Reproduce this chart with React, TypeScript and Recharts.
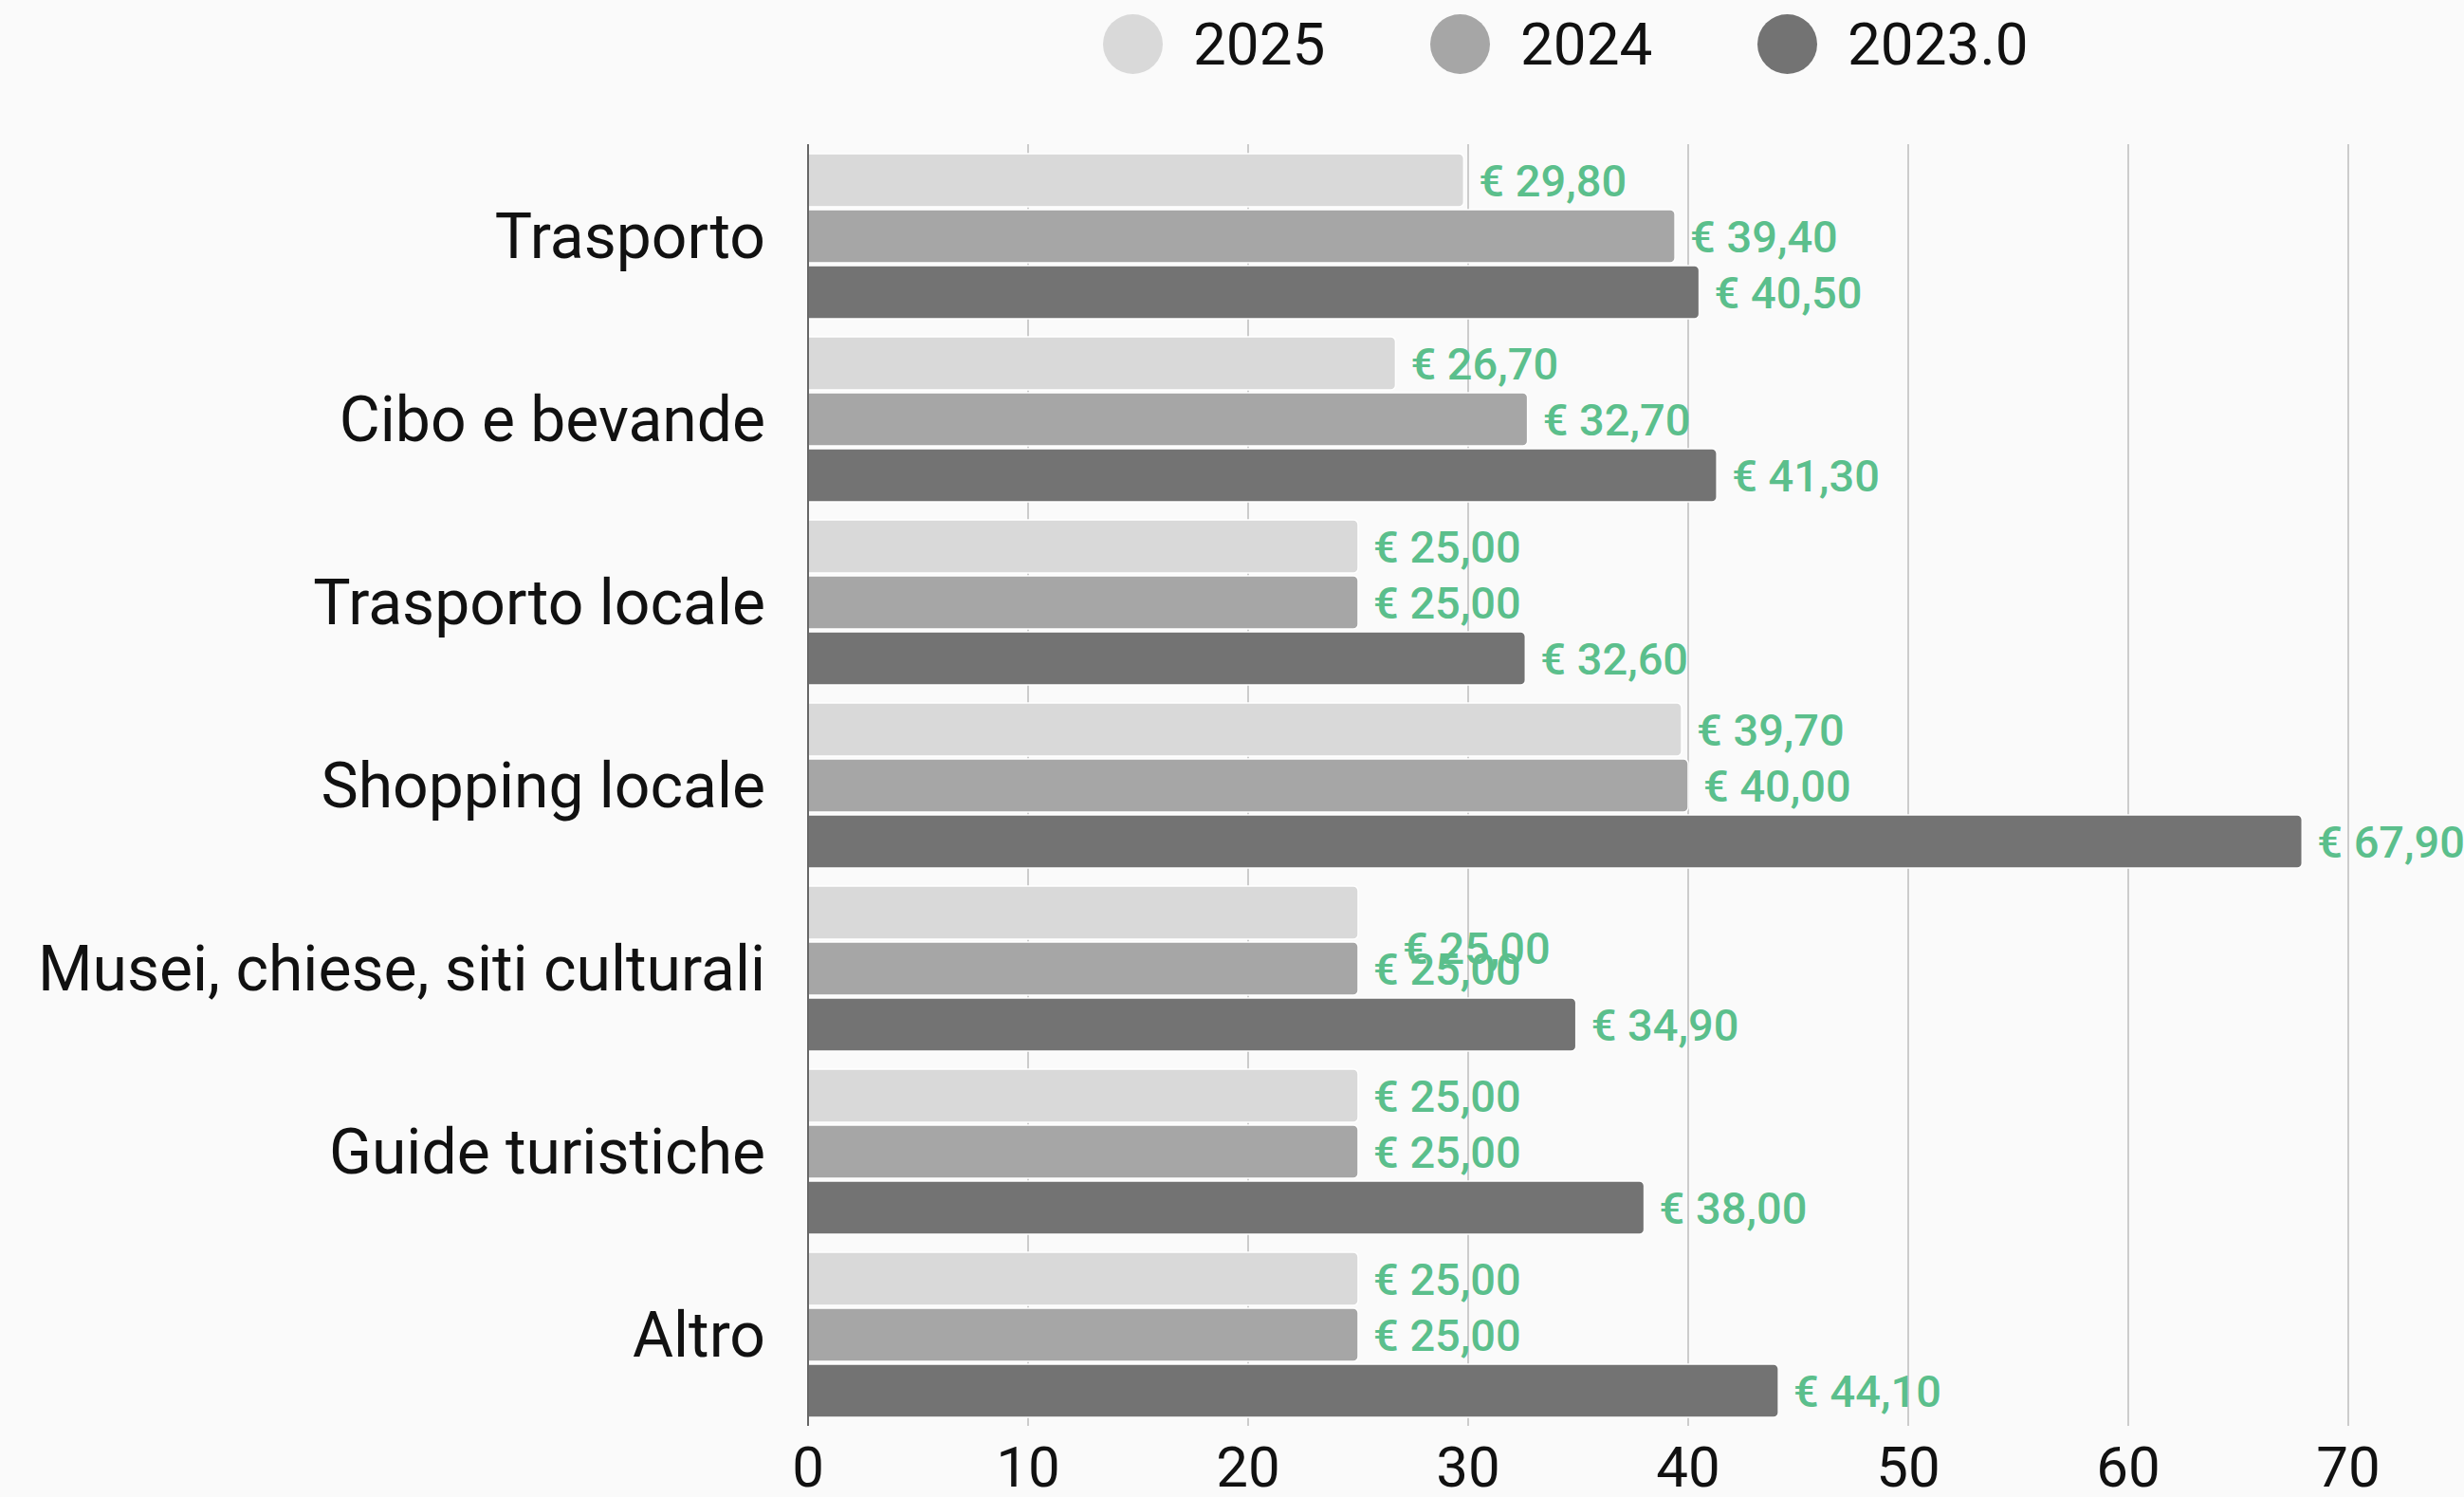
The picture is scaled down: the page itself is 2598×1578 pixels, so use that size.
import React from 'react';
import { BarChart, Bar, XAxis, YAxis, CartesianGrid, LabelList } from 'recharts';

// spesa media giornaliera per categoria
const categories = [
  'Trasporto',
  'Cibo e bevande',
  'Trasporto locale',
  'Shopping locale',
  'Musei, chiese, siti culturali',
  'Guide turistiche',
  'Altro',
];
const values2025 = [29.8, 26.7, 25.0, 39.7, 25.0, 25.0, 25.0];
const values2024 = [39.4, 32.7, 25.0, 40.0, 25.0, 25.0, 25.0];
const values2023 = [40.5, 41.3, 32.6, 67.9, 34.9, 38.0, 44.1];
const xTicks = [0, 10, 20, 30, 40, 50, 60, 70];

const SERIES = [
  { key: 's2025', name: '2025', color: '#d9d9d9' },
  { key: 's2024', name: '2024', color: '#a6a6a6' },
  { key: 's2023', name: '2023.0', color: '#737373' },
];

const data = categories.map((name, i) => ({
  name,
  s2025: values2025[i],
  s2024: values2024[i],
  s2023: values2023[i],
}));

const FONT = 'Roboto, "Noto Sans", sans-serif';
const GREEN = '#5bbf8c';

const fmt = (v: number) => '€ ' + v.toFixed(2).replace('.', ',');

// the reference has one label drawn out of place (Musei, 2025)
const labelFor = (key: string) => (props: any) => {
  const { x, y, width, height, value, index } = props;
  const off = key === 's2025' && index === 4 ? [31, 37] : [0, 0];
  return (
    <text
      x={Number(x) + Number(width) + 16 + off[0]}
      y={Number(y) + Number(height) / 2 + off[1]}
      dominantBaseline="central"
      fontSize={47}
      fontWeight={500}
      fontFamily={FONT}
      fill={GREEN}
    >
      {fmt(Number(value))}
    </text>
  );
};

const LegendRow = () => (
  <div style={{ position: 'absolute', left: 1163, top: 15, display: 'flex', fontFamily: FONT }}>
    {SERIES.map((s) => (
      <div key={s.key} style={{ width: 345, display: 'flex', alignItems: 'center' }}>
        <div style={{ width: 63, height: 63, borderRadius: '50%', background: s.color, marginRight: 32 }} />
        <span style={{ fontSize: 62, lineHeight: '63px', color: '#111' }}>{s.name}</span>
      </div>
    ))}
  </div>
);

export default function App() {
  return (
    <div style={{ position: 'absolute', left: 0, top: 0, width: 2598, height: 1578, background: '#fafafa', overflow: 'hidden' }}>
      <LegendRow />
      <div style={{ position: 'absolute', left: 0, top: 0 }}>
        <BarChart
          layout="vertical"
          width={2598}
          height={1578}
          data={data}
          margin={{ top: 152, right: 122, bottom: 5, left: 0 }}
          barSize={56}
          barGap={3}
        >
          <CartesianGrid horizontal={false} stroke="#cccccc" strokeWidth={2} />
          <XAxis
            type="number"
            domain={[0, 70]}
            ticks={xTicks}
            axisLine={false}
            tickLine={false}
            tickSize={0}
            tickMargin={21}
            height={70}
            tick={{ fontSize: 60, fill: '#111', fontFamily: FONT }}
          />
          <YAxis
            type="category"
            dataKey="name"
            width={852}
            tickLine={false}
            tickSize={0}
            tickMargin={45}
            axisLine={{ stroke: '#666', strokeWidth: 2 }}
            tick={{ fontSize: 66, fill: '#111', fontFamily: FONT }}
          />
          {SERIES.map((s) => (
            <Bar
              key={s.key}
              dataKey={s.key}
              name={s.name}
              fill={s.color}
              stroke="#ffffff"
              strokeWidth={1.5}
              radius={[0, 5, 5, 0]}
              isAnimationActive={false}
            >
              <LabelList dataKey={s.key} content={labelFor(s.key)} />
            </Bar>
          ))}
        </BarChart>
      </div>
    </div>
  );
}
